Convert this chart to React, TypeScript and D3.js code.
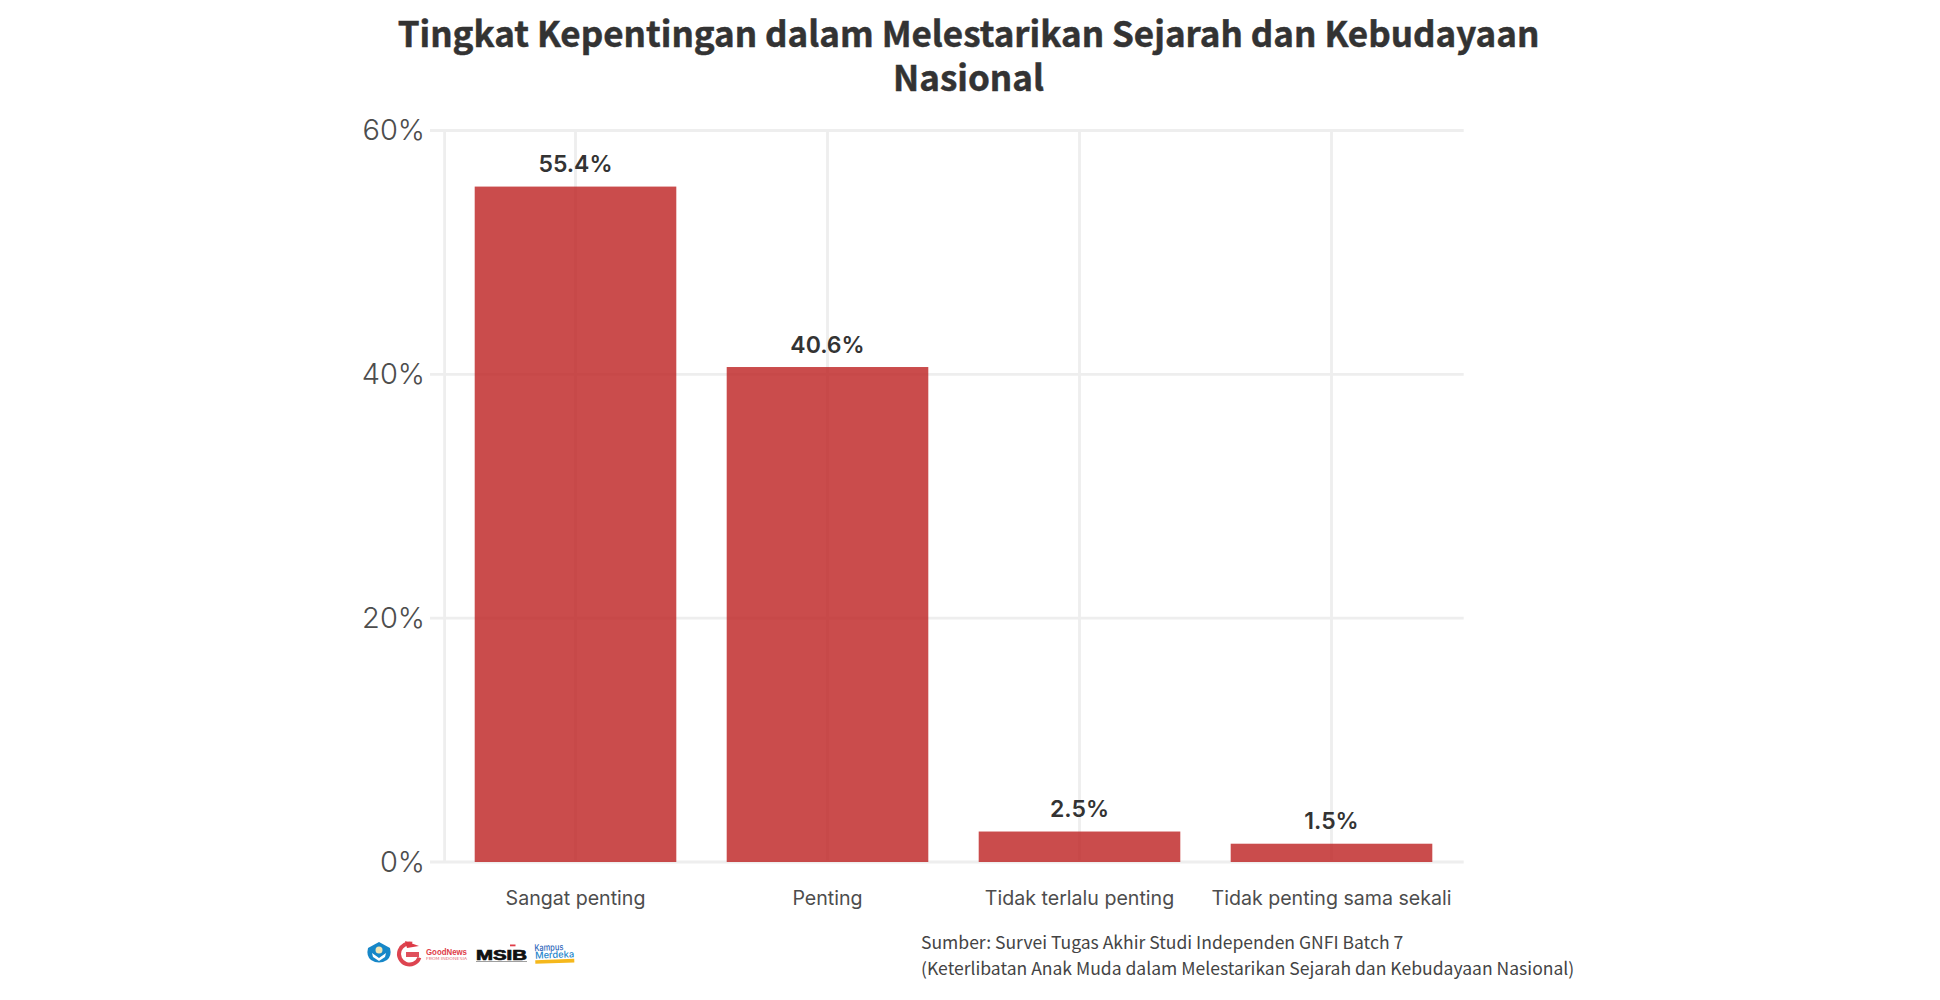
import React from "react";
import * as d3 from "d3";

const categories = ["Sangat penting", "Penting", "Tidak terlalu penting", "Tidak penting sama sekali"];
const shares = [55.4, 40.6, 2.5, 1.5];
const yTicks = [0, 20, 40, 60];
const titleLines = ["Tingkat Kepentingan dalam Melestarikan Sejarah dan Kebudayaan", "Nasional"];
const captionLines = [
  "Sumber: Survei Tugas Akhir Studi Independen GNFI Batch 7",
  "(Keterlibatan Anak Muda dalam Melestarikan Sejarah dan Kebudayaan Nasional)",
];

const SOURCE = "'Noto Sans CJK SC', 'Noto Sans', sans-serif";
const WORK = "Inter, 'Open Sans', sans-serif";
const GRID = "#eeeeee";

function Logos() {
  return (
    <g>
      <path d="M379 942 L390 948 Q392 956 387 960 Q379 965 371 960 Q366 956 368 948 Z" fill="#1787c8" />
      <circle cx={379} cy={950} r={3.5} fill="#f1e6b5" />
      <path d="M372 953 L379 958 L386 953 L385 957 L379 961 L373 957 Z" fill="#ffffff" />
      <circle cx={409.5} cy={954} r={10.5} fill="none" stroke="#dd4450" strokeWidth={4} strokeDasharray="48 18" transform="rotate(20 409.5 954)" />
      <rect x={406} y={952} width={13} height={5} fill="#e0505c" />
      <path d="M405 941 L419 946 L407 948 Z" fill="#dd3a46" />
      <text x={426} y={955} fontFamily="'Liberation Sans', sans-serif" fontWeight={700} fontSize={9} fill="#e03c48" textLength={41} lengthAdjust="spacingAndGlyphs">GoodNews</text>
      <text x={426} y={959.5} fontFamily={SOURCE} fontWeight={400} fontSize={3.5} fill="#e56a72" textLength={41} lengthAdjust="spacingAndGlyphs">FROM INDONESIA</text>
      <text x={476} y={959.5} fontFamily="'Liberation Sans', sans-serif" fontWeight={700} fontSize={14} fill="#111111" stroke="#111111" strokeWidth={0.7} textLength={51} lengthAdjust="spacingAndGlyphs">MSIB</text>
      <rect x={476} y={961} width={51} height={0.8} fill="#888888" />
      <rect x={510} y={944.5} width={5.5} height={1.8} fill="#e03c48" />
      <g transform="rotate(-2 554 953)">
        <text x={534.5} y={950.5} fontFamily={WORK} fontWeight={500} fontSize={9.5} fill="#2a63b8" textLength={29} lengthAdjust="spacingAndGlyphs">Kampus</text>
        <text x={535} y={958} fontFamily={WORK} fontWeight={500} fontSize={9.5} fill="#1c86cc" textLength={39} lengthAdjust="spacingAndGlyphs">Merdeka</text>
        <rect x={535} y={959.5} width={39} height={3.6} fill="#f5b81c" />
      </g>
    </g>
  );
}

export default function App() {
  const x = d3.scaleBand<string>().domain(categories).range([449.5, 1457.5]).paddingInner(0.2).paddingOuter(0.1);
  const y = d3.scaleLinear().domain([0, 60]).range([862, 130.5]);
  const xLeft = 444.6;
  const xRight = 1463.7;
  const cx = (c: string) => (x(c) as number) + x.bandwidth() / 2;

  return (
    <svg width={1940} height={1000} viewBox="0 0 1940 1000" style={{ position: "absolute", left: 0, top: 0, display: "block", background: "#ffffff" }}>
      {/* grid */}
      {yTicks.map((t) => (
        <line key={t} x1={430} x2={xRight} y1={y(t)} y2={y(t)} stroke={GRID} strokeWidth={2.8} />
      ))}
      <line x1={xLeft} x2={xLeft} y1={y(60)} y2={y(0)} stroke={GRID} strokeWidth={2.8} />
      {categories.map((c) => (
        <line key={c} x1={cx(c)} x2={cx(c)} y1={y(60)} y2={y(0)} stroke={GRID} strokeWidth={2.8} />
      ))}

      {/* bars */}
      {categories.map((c, i) => (
        <rect key={c} x={x(c)} y={y(shares[i])} width={x.bandwidth()} height={y(0) - y(shares[i])} fill="#bd1f1f" fillOpacity={0.8} />
      ))}

      {/* value labels */}
      {categories.map((c, i) => (
        <text key={c} x={cx(c)} y={y(shares[i]) - 14.5} textAnchor="middle" fontFamily={WORK} fontWeight={600} fontSize={23} fill="#333333">
          {shares[i].toFixed(1)}%
        </text>
      ))}

      {/* y labels */}
      {yTicks.map((t) => (
        <text key={t} x={425} y={y(t) + 9.5} textAnchor="end" fontFamily={WORK} fontWeight={300} fontSize={29} fill="#4d4d4d">
          {t}%
        </text>
      ))}

      {/* x labels */}
      {categories.map((c) => (
        <text key={c} x={cx(c)} y={905} textAnchor="middle" fontFamily={WORK} fontWeight={400} fontSize={19.6} fill="#4d4d4d">
          {c}
        </text>
      ))}

      {/* title */}
      {titleLines.map((l, i) => (
        <text key={l} x={968.5} y={47 + i * 44} textAnchor="middle" fontFamily={SOURCE} fontWeight={700} fontSize={35} fill="#333333" stroke="#333333" strokeWidth={0.5}>
          {l}
        </text>
      ))}

      {/* caption */}
      {captionLines.map((l, i) => (
        <text key={l} x={921} y={949 + i * 26} fontFamily={SOURCE} fontWeight={400} fontSize={17.55} fill="#444444">
          {l}
        </text>
      ))}

      <Logos />
    </svg>
  );
}
